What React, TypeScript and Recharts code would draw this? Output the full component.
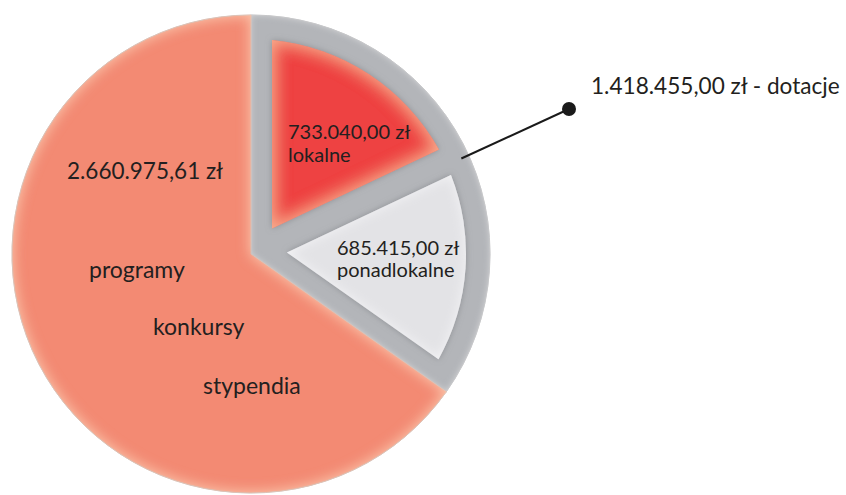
import React from 'react';
import { PieChart, Pie, Cell } from 'recharts';

const outerNames = ['dotacje', 'programy'];
const outerValues = [1418455.0, 2660975.61];
const innerNames = ['lokalne', 'ponadlokalne', 'reszta'];
const innerValues = [733040.0, 685415.0, 2660975.61];

const dotacjeLabel = '1.418.455,00 zł - dotacje';
const programyLabel = '2.660.975,61 zł';
const programyLines = ['programy', 'konkursy', 'stypendia'];
const lokalneLabel = ['733.040,00 zł', 'lokalne'];
const ponadLabel = ['685.415,00 zł', 'ponadlokalne'];

const outerData = outerNames.map((name, i) => ({ name, value: outerValues[i] }));
const innerData = innerNames.map((name, i) => ({ name, value: innerValues[i] }));

const RAD = Math.PI / 180;
const FONT = 'Lato, sans-serif';
const INK = '#231f20';

// sector shrunk inward: d1 for the edge at a1, d2 for the edge at a2, r = arc radius
function insetPath(cx: number, cy: number, r: number, a1: number, a2: number, d1: number, d2: number) {
  const t1 = a1 * RAD;
  const t2 = a2 * RAD;
  const n1 = [-Math.sin(t1), Math.cos(t1)];
  const n2 = [Math.sin(t2), -Math.cos(t2)];
  const det = n1[0] * n2[1] - n1[1] * n2[0];
  const px = (d1 * n2[1] - n1[1] * d2) / det;
  const py = (n1[0] * d2 - d1 * n2[0]) / det;
  const s1 = Math.sqrt(r * r - d1 * d1);
  const s2 = Math.sqrt(r * r - d2 * d2);
  const p1 = [d1 * n1[0] + s1 * Math.cos(t1), d1 * n1[1] + s1 * Math.sin(t1)];
  const p2 = [d2 * n2[0] + s2 * Math.cos(t2), d2 * n2[1] + s2 * Math.sin(t2)];
  const large = a2 - a1 > 180 ? 1 : 0;
  return `M${cx + px},${cy - py} L${cx + p1[0]},${cy - p1[1]} A${r},${r} 0 ${large} 0 ${cx + p2[0]},${cy - p2[1]} Z`;
}

const renderOuterLabel = (props: any) => {
  const { cx, cy, index, midAngle, outerRadius } = props;
  if (index === 0) {
    const r = outerRadius - 8;
    const a = (midAngle - 3) * RAD;
    const sx = cx + r * Math.cos(a);
    const sy = cy - r * Math.sin(a);
    const ex = cx + 318;
    const ey = cy - 145;
    return (
      <g>
        <line x1={sx} y1={sy} x2={ex} y2={ey} stroke="#1a1a1a" strokeWidth={2} />
        <circle cx={ex} cy={ey} r={7} fill="#1a1a1a" />
        <text x={cx + 340} y={cy - 160} fontFamily={FONT} fontSize={22.6} fill={INK}>
          {dotacjeLabel}
        </text>
      </g>
    );
  }
  return (
    <g fontFamily={FONT} fontSize={22.5} fill={INK}>
      <text x={cx - 184} y={cy - 75}>{programyLabel}</text>
      <text x={cx - 162} y={cy + 24} fontSize={23}>{programyLines[0]}</text>
      <text x={cx - 98} y={cy + 81} fontSize={23}>{programyLines[1]}</text>
      <text x={cx - 48} y={cy + 140} fontSize={23}>{programyLines[2]}</text>
    </g>
  );
};

const renderInnerLabel = (props: any) => {
  const { cx, cy, index, startAngle, endAngle, outerRadius } = props;
  if (index > 1) return null;
  const a1 = Math.min(startAngle, endAngle);
  const a2 = Math.max(startAngle, endAngle);
  const r = outerRadius - 24;
  if (index === 0) {
    return (
      <g>
        <path d={insetPath(cx, cy, r, a1, a2, 14, 21)} fill="#ee4343" filter="url(#glowRed)" />
        <g fontFamily={FONT} fontSize={20} fill={INK}>
          <text x={cx + 37} y={cy - 115}>{lokalneLabel[0]}</text>
          <text x={cx + 37} y={cy - 92}>{lokalneLabel[1]}</text>
        </g>
      </g>
    );
  }
  return (
    <g>
      <path d={insetPath(cx, cy, r, a1, a2, 22, 14)} fill="#e3e3e6" filter="url(#glowLight)" />
      <g fontFamily={FONT} fontSize={20} fill={INK}>
        <text x={cx + 86} y={cy + 1}>{ponadLabel[0]}</text>
        <text x={cx + 86} y={cy + 23}>{ponadLabel[1]}</text>
      </g>
    </g>
  );
};

const Defs = () => (
  <svg width={0} height={0} style={{ position: 'absolute' }}>
    <defs>
      <filter id="glowSalmon" x="-10%" y="-10%" width="120%" height="120%">
        <feFlood floodColor="#fccbb0" result="f" />
        <feComposite in="f" in2="SourceAlpha" operator="out" result="o" />
        <feGaussianBlur in="o" stdDeviation="7" result="b" />
        <feComposite in="b" in2="SourceAlpha" operator="in" result="i" />
        <feMerge>
          <feMergeNode in="SourceGraphic" />
          <feMergeNode in="i" />
        </feMerge>
      </filter>
      <filter id="glowGrey" x="-10%" y="-10%" width="120%" height="120%">
        <feFlood floodColor="#d6d7d9" result="f" />
        <feComposite in="f" in2="SourceAlpha" operator="out" result="o" />
        <feGaussianBlur in="o" stdDeviation="3" result="b" />
        <feComposite in="b" in2="SourceAlpha" operator="in" result="i" />
        <feMerge>
          <feMergeNode in="SourceGraphic" />
          <feMergeNode in="i" />
        </feMerge>
      </filter>
      <filter id="glowRed" x="-20%" y="-20%" width="140%" height="140%">
        <feGaussianBlur in="SourceAlpha" stdDeviation="3" result="sb" />
        <feFlood floodColor="#7d7f84" floodOpacity="0.7" result="sf" />
        <feComposite in="sf" in2="sb" operator="in" result="shadow" />
        <feFlood floodColor="#f9b594" result="f" />
        <feComposite in="f" in2="SourceAlpha" operator="out" result="o" />
        <feGaussianBlur in="o" stdDeviation="9" result="b" />
        <feComposite in="b" in2="SourceAlpha" operator="in" result="i" />
        <feMerge>
          <feMergeNode in="shadow" />
          <feMergeNode in="SourceGraphic" />
          <feMergeNode in="i" />
        </feMerge>
      </filter>
      <filter id="glowLight" x="-20%" y="-20%" width="140%" height="140%">
        <feGaussianBlur in="SourceAlpha" stdDeviation="3" result="sb" />
        <feFlood floodColor="#7d7f84" floodOpacity="0.7" result="sf" />
        <feComposite in="sf" in2="sb" operator="in" result="shadow" />
        <feFlood floodColor="#f3f3f5" result="f" />
        <feComposite in="f" in2="SourceAlpha" operator="out" result="o" />
        <feGaussianBlur in="o" stdDeviation="6" result="b" />
        <feComposite in="b" in2="SourceAlpha" operator="in" result="i" />
        <feMerge>
          <feMergeNode in="shadow" />
          <feMergeNode in="SourceGraphic" />
          <feMergeNode in="i" />
        </feMerge>
      </filter>
    </defs>
  </svg>
);

const App: React.FC = () => {
  return (
    <div style={{ position: 'absolute', left: 0, top: 0, width: 846, height: 495, background: '#fff' }}>
      <Defs />
      <PieChart width={846} height={495} margin={{ top: 0, right: 0, bottom: 0, left: 0 }}>
        <Pie
          data={outerData}
          dataKey="value"
          cx={251}
          cy={254}
          outerRadius={239}
          startAngle={90}
          endAngle={-270}
          stroke="#b9b9bb"
          strokeWidth={1}
          labelLine={false}
          label={renderOuterLabel}
          isAnimationActive={false}
        >
          <Cell fill="#b3b5b9" filter="url(#glowGrey)" />
          <Cell fill="#f38a73" filter="url(#glowSalmon)" />
        </Pie>
        <Pie
          data={innerData}
          dataKey="value"
          cx={251}
          cy={254}
          outerRadius={239}
          startAngle={90}
          endAngle={-270}
          fill="none"
          stroke="none"
          labelLine={false}
          label={renderInnerLabel}
          isAnimationActive={false}
        >
          {innerData.map((d) => (
            <Cell key={d.name} fill="none" stroke="none" />
          ))}
        </Pie>
      </PieChart>
    </div>
  );
};

export default App;
